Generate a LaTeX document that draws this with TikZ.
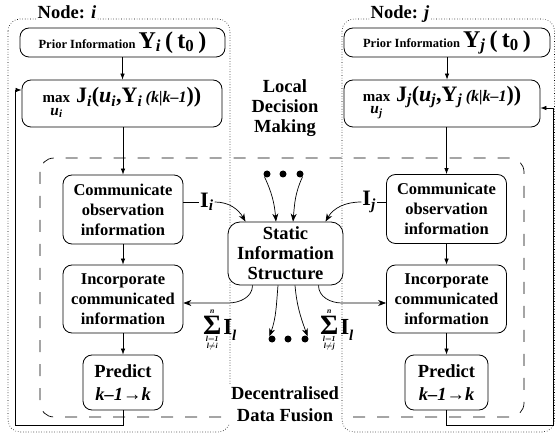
\documentclass[tikz,border=0pt]{standalone}
\usepackage{fontspec}
\usepackage{amsmath}
\setmainfont{Liberation Serif}
\usetikzlibrary{arrows.meta}
\newcommand{\bv}[1]{\text{\bfseries\itshape #1}}
\newcommand{\br}[1]{\text{\bfseries #1}}
\newcommand{\bigsum}[1]{$\mathop{\text{\fontsize{28}{28}\selectfont\bfseries Σ}}\limits_{\substack{\bv{l}=\bv{1}\\\bv{l}\neq\bv{#1}}}^{\bv{n}}\text{\fontsize{23}{23}\selectfont\bfseries I}_{\text{\fontsize{15}{15}\selectfont\bfseries\itshape l}}$}
\newcommand{\maxj}[1]{$\underset{\bv{u}_{\bv{#1}}}{\text{\fontsize{15}{15}\selectfont\bfseries max}}\;\br{J}_{\bv{#1}}\br{(}\bv{u}_{\bv{#1}}\br{,}\br{Y}_{\bv{#1}}\,\text{\fontsize{16}{16}\selectfont\bfseries\itshape(k|k\textendash1}\br{))}$}
\newcommand{\prior}[1]{Prior Information {\fontsize{24}{24}\selectfont$\br{Y}_{\bv{#1}}\,\br{(}\,\br{t}_{\br{0}}\,\br{)}$}}

\begin{document}
\begin{tikzpicture}[x=1pt,y=-1pt]
	\tikzstyle{blk}=[draw,line width=0.8pt,rounded corners=9pt,fill=white,align=center,inner sep=1pt]
	\tikzstyle{txt}=[font=\bfseries\fontsize{16.5}{20}\selectfont]
	\tikzstyle{big}=[font=\bfseries\fontsize{18.5}{20}\selectfont]
	\tikzstyle{pri}=[font=\bfseries\fontsize{12.5}{16}\selectfont]
	\tikzstyle{lbl}=[font=\bfseries\fontsize{22}{24}\selectfont,inner sep=1pt]
	\tikzstyle{sumlbl}=[font=\bfseries\fontsize{11}{12}\selectfont,inner sep=0pt]
	\tikzstyle{flow}=[line width=0.7pt,-{Latex[length=6pt,width=4.5pt]}]
	\tikzstyle{info}=[line width=0.7pt,-{Stealth[length=8pt,width=6pt]}]
	\tikzstyle{dot}=[circle,fill,inner sep=0pt,minimum size=7pt]
	\tikzstyle{region}=[dotted,line width=0.6pt,rounded corners=12pt]
	\useasboundingbox (0,0) rectangle (556,435);
	\draw[region] (8,19) rectangle (230,432);
	\draw[region] (342,19) rectangle (554.5,432);
	\draw[dash pattern=on 12pt off 12pt,line width=0.7pt,rounded corners=14pt] (40,158) rectangle (524,417);
	\node[big,fill=white,inner sep=1pt,anchor=base] (ndi) at (67,19) {Node: \textit{i}};
	\node[big,fill=white,inner sep=1pt,anchor=base] (ndj) at (400,19) {Node: \textit{j}};
	\node[big,align=center] (ldm) at (285,108) {Local\\Decision\\Making};
	\node[font=\bfseries\fontsize{18.5}{22}\selectfont,align=center,fill=white,inner sep=2pt] (ddf) at (285,404) {Decentralised\\Data Fusion};
	\node[blk,pri,minimum width=205pt,minimum height=29pt] (pri) at (122.5,42.5) {\prior{i}};
	\node[blk,pri,minimum width=206pt,minimum height=29pt] (prj) at (447,42.5) {\prior{j}};
	\node[blk,minimum width=200pt,minimum height=47pt,font=\bfseries\fontsize{22}{22}\selectfont] (mxi) at (122,103.5) {\maxj{i}};
	\node[blk,minimum width=196pt,minimum height=47pt,font=\bfseries\fontsize{22}{22}\selectfont] (mxj) at (442,103.5) {\maxj{j}};
	\node[blk,txt,minimum width=120pt,minimum height=69pt] (cmi) at (123,209.5) {Communicate\\observation\\information};
	\node[blk,txt,minimum width=120pt,minimum height=69pt] (cmj) at (446.5,209) {Communicate\\observation\\information};
	\node[blk,txt,minimum width=120pt,minimum height=68pt] (ici) at (123,299) {Incorporate\\communicated\\information};
	\node[blk,txt,minimum width=120pt,minimum height=68pt] (icj) at (446.5,299) {Incorporate\\communicated\\information};
	\node[blk,font=\bfseries\fontsize{18.5}{23}\selectfont,minimum width=80pt,minimum height=55pt] (pdi) at (123,382.5) {Predict\\\textit{k\textendash1}→\textit{k}};
	\node[blk,font=\bfseries\fontsize{18.5}{23}\selectfont,minimum width=83pt,minimum height=55pt] (pdj) at (446.5,382.5) {Predict\\\textit{k\textendash1}→\textit{k}};
	\node[blk,big,rounded corners=12pt,minimum width=115pt,minimum height=63pt] (sis) at (285.5,253.5) {Static\\Information\\Structure};
	\node[lbl,anchor=west] (lbi) at (199,202) {$\br{I}_{\bv{i}}$};
	\node[lbl,anchor=east] (lbj) at (377,202) {$\br{I}_{\bv{j}}$};
	\node[sumlbl] (smi) at (220,330) {\bigsum{i}};
	\node[sumlbl] (smj) at (337,330) {\bigsum{j}};
	\node[dot] (dt1) at (267,174) {};
	\node[dot] (dt2) at (283,174) {};
	\node[dot] (dt3) at (300,174) {};
	\node[dot] (db1) at (272,339) {};
	\node[dot] (db2) at (288,339) {};
	\node[dot] (db3) at (305,339) {};
	\coordinate (fbi) at (15,425);
	\coordinate (fbj) at (553,425);
	\coordinate (cvi) at (228,303);
	\coordinate (cvj) at (342,303);
	\draw[flow] (pri.south) -- (pri.south |- mxi.north);
	\draw[flow] (prj.south) -- (prj.south |- mxj.north);
	\draw[flow] (mxi.south -| cmi.north) -- (cmi.north);
	\draw[flow] (mxj.south -| cmj.north) -- (cmj.north);
	\draw[flow] (cmi) -- (ici);
	\draw[flow] (cmj) -- (icj);
	\draw[flow] (ici) -- (pdi);
	\draw[flow] (icj) -- (pdj);
	\draw[flow] (pdi.south) |- (fbi) |- ([yshift=13.5pt]mxi.west);
	\draw[flow] (pdj.south) |- (fbj) |- ([yshift=-4.5pt]mxj.east);
	\draw[line width=0.7pt] ([yshift=7.5pt]cmi.east) -- (lbi.west);
	\draw[line width=0.7pt] (lbj.east) -- ([yshift=7pt]cmj.west);
	\draw[info] (lbi.east) to[out=0,in=120] ([xshift=-40pt]sis.north);
	\draw[info] (lbj.west) to[out=180,in=60] ([xshift=40pt]sis.north);
	\draw[info] (dt1.south west) to[out=-65,in=95] ([xshift=-9.5pt]sis.north);
	\draw[info] (dt3.south east) to[out=-115,in=85] ([xshift=7.5pt]sis.north);
	\draw[info] ([xshift=-7.5pt]sis.south) to[out=-95,in=70] (db1.north west);
	\draw[info] ([xshift=9.5pt]sis.south) to[out=-85,in=110] (db3.north east);
	\draw[info] ([xshift=-33pt]sis.south) to[out=-90,in=0] (cvi) -- ([yshift=-4pt]ici.east);
	\draw[info] ([xshift=33pt]sis.south) to[out=-90,in=180] (cvj) -- ([yshift=-4pt]icj.west);
\end{tikzpicture}
\end{document}
